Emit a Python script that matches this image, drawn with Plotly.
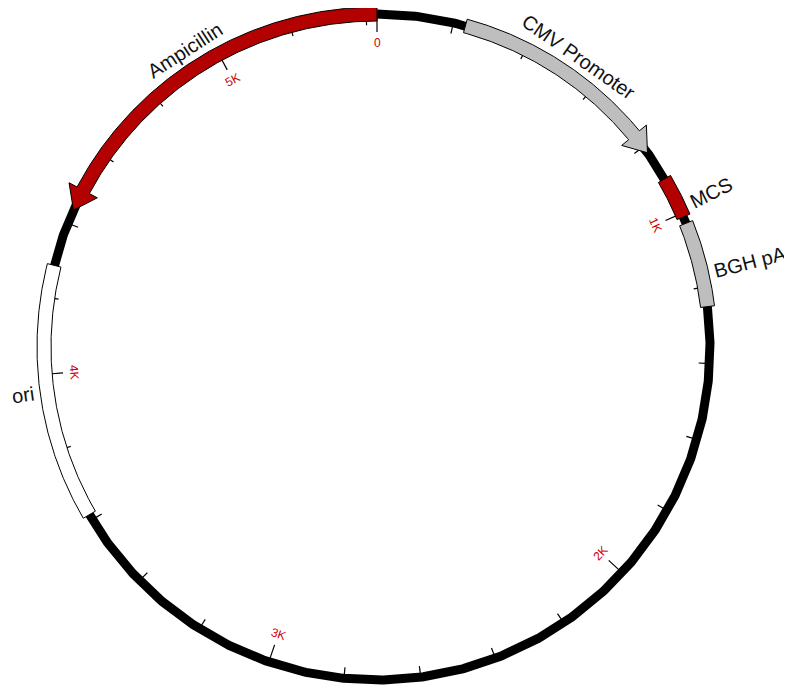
import math
import numpy as np
import plotly.graph_objects as go

# ---------------- data ----------------
SEQ_LEN = 5428
feature_names = ["CMV Promoter", "MCS", "BGH pA", "ori", "Ampicillin"]
feature_starts = [232, 900, 1028, 3615, 4437]
feature_ends = [819, 1010, 1252, 4285, 5428]
feature_strands = [1, 0, 0, 0, -1]
major_tick_bp = [0, 1000, 2000, 3000, 4000, 5000]
major_tick_labels = ["0", "1K", "2K", "3K", "4K", "5K"]
minor_tick_step = 200

# ---------------- style ----------------
feature_fill = {"CMV Promoter": "#bebebe", "MCS": "#b30000", "BGH pA": "#bebebe",
                "ori": "#ffffff", "Ampicillin": "#b30000"}
R_RING = 333
RING_W = 9
BOX_HALF = 7
HEAD_HALF = 16
HEAD_DEG = 3.8
FONT = "Arial, Liberation Sans, sans-serif"


def ang(bp):
    return bp / SEQ_LEN * 2 * math.pi


def xy(r, a):
    return r * math.sin(a), r * math.cos(a)


def arc(r, a0, a1, step=0.005):
    n = max(2, int(abs(a1 - a0) / step) + 1)
    return [(r, a) for a in np.linspace(a0, a1, n)]


fig = go.Figure()

# backbone ring
ring = arc(R_RING, 0, 2 * math.pi)
fig.add_trace(go.Scatter(x=[xy(r, a)[0] for r, a in ring], y=[xy(r, a)[1] for r, a in ring],
                         mode="lines", line=dict(color="black", width=RING_W),
                         hoverinfo="skip"))

# ticks
tx, ty = [], []
for bp in range(0, SEQ_LEN, minor_tick_step):
    a = ang(bp)
    r_in = 315 if bp in major_tick_bp else 322
    for r in (R_RING - 4, r_in):
        x, y = xy(r, a)
        tx.append(x)
        ty.append(y)
    tx.append(None)
    ty.append(None)
fig.add_trace(go.Scatter(x=tx, y=ty, mode="lines", line=dict(color="black", width=1.2),
                         hoverinfo="skip"))

# features
h = math.radians(HEAD_DEG)
for name, s, e, strand in zip(feature_names, feature_starts, feature_ends, feature_strands):
    a0, a1 = ang(s), ang(e)
    if strand == 1:
        b0, b1 = a0, a1 - h
    elif strand == -1:
        b0, b1 = a0 + h, a1
    else:
        b0, b1 = a0, a1
    pts = arc(R_RING + BOX_HALF, b0, b1)
    if strand == 1:
        pts += [(R_RING + HEAD_HALF, b1), (R_RING, a1), (R_RING - HEAD_HALF, b1)]
    pts += arc(R_RING - BOX_HALF, b1, b0)
    if strand == -1:
        pts += [(R_RING - HEAD_HALF, b0), (R_RING, a0), (R_RING + HEAD_HALF, b0)]
    pts.append(pts[0])
    fig.add_trace(go.Scatter(x=[xy(r, a)[0] for r, a in pts], y=[xy(r, a)[1] for r, a in pts],
                             mode="lines", fill="toself", fillcolor=feature_fill[name],
                             line=dict(color="black", width=1), name=name,
                             hoverinfo="name"))

annotations = []
# tick labels
for bp, lab in zip(major_tick_bp, major_tick_labels):
    a = ang(bp)
    deg = math.degrees(a)
    rot = deg - 180 if 90 < deg < 270 else (deg if deg <= 90 else deg - 360)
    x, y = xy(304, a)
    annotations.append(dict(x=x, y=y, xref="x", yref="y", text=lab, showarrow=False,
                            textangle=rot, font=dict(family=FONT, size=12, color="#cc0000"),
                            xanchor="center", yanchor="middle"))

# feature labels
for name, s, e in zip(feature_names, feature_starts, feature_ends):
    a = ang((s + e) / 2)
    deg = math.degrees(a)
    if abs(math.cos(a)) > 0.5:
        rot = deg - 180 if 90 < deg < 270 else (deg if deg <= 90 else deg - 360)
        x, y = xy(353, a)
        xa = "center"
    else:
        if deg < 180:
            rot = deg - 90
            xa = "left"
        else:
            rot = deg - 270
            xa = "right"
        x, y = xy(343, a)
    annotations.append(dict(x=x, y=y, xref="x", yref="y", text=name, showarrow=False,
                            textangle=rot, font=dict(family=FONT, size=20, color="#111111"),
                            xanchor=xa, yanchor="middle"))

# page has an 8px body margin: plot pixel 0 sits at page pixel 8
fig.update_layout(
    width=792, height=688,
    margin=dict(l=0, r=0, t=0, b=0),
    paper_bgcolor="white", plot_bgcolor="white",
    showlegend=False,
    xaxis=dict(range=[-369, 423], visible=False, fixedrange=True),
    yaxis=dict(range=[-349, 339], visible=False, fixedrange=True),
    annotations=annotations,
)

fig.write_html("out.html")
